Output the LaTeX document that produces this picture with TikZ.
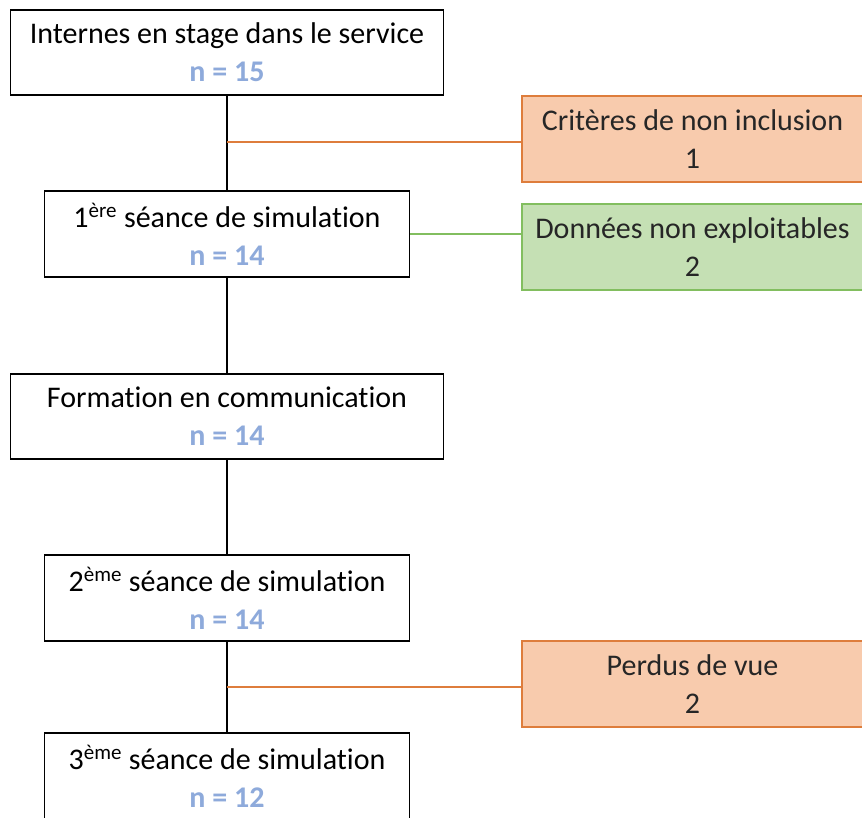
\documentclass[tikz,border=0pt]{standalone}
\usepackage{fontspec}
\setmainfont{Carlito}[Ligatures=NoCommon]
\usetikzlibrary{positioning}
\definecolor{bluish}{RGB}{142,170,219}
\definecolor{orangefill}{RGB}{248,203,173}
\definecolor{orangedraw}{RGB}{222,125,60}
\definecolor{greenfill}{RGB}{197,224,180}
\definecolor{greendraw}{RGB}{130,190,95}
\definecolor{textgray}{RGB}{38,38,38}

\begin{document}
\begin{tikzpicture}[
  x=0.75pt,
  y=-0.75pt,
  step box/.style={
    draw,
    rectangle,
    fill=white,
    line width=1.1pt,
    align=center,
    inner sep=0pt,
    font=\fontsize{22.5}{28.5}\selectfont,
  },
  wide/.style={
    minimum width=324.75pt,
    minimum height=63.75pt,
  },
  narrow/.style={
    minimum width=273.75pt,
    minimum height=64.5pt,
  },
  side/.style={
    draw,
    rectangle,
    line width=1.1pt,
    align=center,
    inner sep=0pt,
    text=textgray,
    minimum width=255.75pt,
    minimum height=64.5pt,
    font=\fontsize{22.5}{28.5}\selectfont,
  },
  excl/.style={
    side,
    draw=orangedraw,
    fill=orangefill
  },
  lost/.style={
    side,
    draw=greendraw,
    fill=greenfill
  },
  link/.style={
    line width=1.1pt
  }
]
\useasboundingbox (0,0) rectangle (862,817);

% Main flow
\node[step box,wide] (internes) at (227,52.5)
  {Internes en stage dans le service\\ \textbf{\color{bluish}n = 15}};
\node[step box,narrow] (seance1) at (227,234)
  {1\textsuperscript{ère} séance de simulation\\ \textbf{\color{bluish}n = 14}};
\node[step box,wide] (formation) at (227,416.5)
  {Formation en communication\\ \textbf{\color{bluish}n = 14}};
\node[step box,narrow] (seance2) at (227,598)
  {2\textsuperscript{ème} séance de simulation\\ \textbf{\color{bluish}n = 14}};
\node[step box,narrow] (seance3) at (227,776)
  {3\textsuperscript{ème} séance de simulation\\ \textbf{\color{bluish}n = 12}};

% Side boxes
\node[excl] (criteres) at (692.5,139) {Critères de non inclusion\\ 1};
\node[lost] (donnees) at (692.5,247) {Données non exploitables\\ 2};
\node[excl] (perdus) at (692.5,684) {Perdus de vue\\ 2};

% Links
\draw[link] (internes) -- (seance1);
\draw[link] (seance1) -- (formation);
\draw[link] (formation) -- (seance2);
\draw[link] (seance2) -- (seance3);

\coordinate (split1) at (227,142);
\coordinate (split2) at (227,687);
\draw[link,orangedraw] (split1) -- (split1 -| criteres.west);
\draw[link,greendraw] (seance1.east) -- (seance1.east -| donnees.west);
\draw[link,orangedraw] (split2) -- (split2 -| perdus.west);

\end{tikzpicture}
\end{document}
